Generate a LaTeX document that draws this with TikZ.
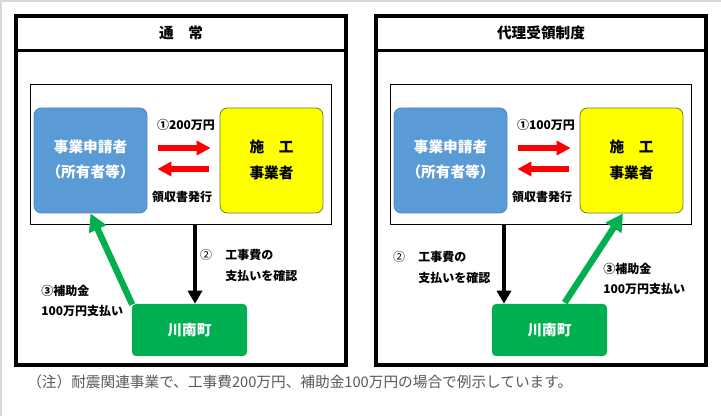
\documentclass[tikz,border=0pt]{standalone}
\usepackage{fontspec}
\setmainfont{Noto Sans CJK JP}
\usetikzlibrary{arrows.meta,calc}
\definecolor{boxblue}{HTML}{5B9BD5}
\definecolor{boxblueline}{HTML}{4A86C5}
\definecolor{boxyellow}{HTML}{FFFF00}
\definecolor{yellowline}{HTML}{6B7F2A}
\definecolor{boxgreen}{HTML}{00B050}
\definecolor{notegray}{HTML}{595959}
\definecolor{framegray}{HTML}{D9D9D9}
\begin{document}
\begin{tikzpicture}[x=0.75pt,y=-0.75pt,
  outerframe/.style={draw=black,line width=2.4pt},
  innerframe/.style={draw=black,line width=0.75pt},
  titletext/.style={font=\fontsize{11}{13}\selectfont\bfseries},
  applicant/.style={draw=boxblueline,line width=0.6pt,fill=boxblue,rounded corners=5.5pt,minimum width=84.75pt,minimum height=78.75pt,inner sep=0pt},
  builder/.style={draw=yellowline,line width=0.6pt,fill=boxyellow,rounded corners=5.5pt,minimum width=77.25pt,minimum height=78.75pt,inner sep=0pt},
  town/.style={fill=boxgreen,rounded corners=3pt,minimum width=86.25pt,minimum height=39pt,inner sep=0pt,text=white,font=\fontsize{11}{13}\selectfont\bfseries},
  boxtext/.style={font=\fontsize{11}{13}\selectfont\bfseries,inner sep=0pt},
  lbl/.style={font=\fontsize{9}{11}\selectfont\bfseries,inner sep=0pt},
  redarrow/.style={draw=red,line width=4pt,-{Triangle[width=10.5pt,length=10.5pt]}},
  blackarrow/.style={draw=black,line width=3pt,-{Triangle[width=10.5pt,length=9.75pt]}},
  greenarrow/.style={draw=boxgreen,line width=4.8pt,-{Triangle[width=13.5pt,length=13pt]}},
  note/.style={font=\fontsize{11}{13}\selectfont,text=notegray,inner sep=0pt,anchor=west}
]
\useasboundingbox (0,0) rectangle (721,416);
\fill[white] (0,0) rectangle (721,416);
\draw[framegray,line width=1.5pt] (1,416) -- (1,1) -- (721,1);

% ================= left panel =================
\draw[outerframe] (16,16) rectangle (346,365);
\draw[outerframe] (16,50.5) -- (346,50.5);
\node[titletext] (t1) at (181,33) {通　常};
\node[innerframe,minimum width=225.75pt,minimum height=105pt,inner sep=0pt] (in1) at (180.5,155) {};

\node[applicant] (ap1) at (90.5,160.5) {};
\node[boxtext,text=white] (ap1a) at (90.5,147) {事業申請者};
\node[boxtext,text=white] (ap1b) at (90.5,172) {（所有者等）};
\node[builder] (bu1) at (271.5,160.5) {};
\node[boxtext] (bu1a) at (271.5,147) {施　工};
\node[boxtext] (bu1b) at (271.5,173) {事業者};

\node[lbl] (pay1) at (186,125) {①200万円};
\node[lbl] (rec1) at (182,197) {領収書発行};
\coordinate (ra1) at (0,148);
\coordinate (rb1) at (0,169);
\draw[redarrow,shorten <=8.25pt,shorten >=6.75pt] (ap1.east |- ra1) -- (bu1.west |- ra1);
\draw[redarrow,shorten <=8.25pt,shorten >=7.5pt] (bu1.west |- rb1) -- (ap1.east |- rb1);

\node[town] (tw1) at (189.5,330) {川南町};
\coordinate (bx1) at (195,0);
\draw[blackarrow] (in1.south -| bx1) -- (tw1.north -| bx1);
\node[lbl,font=\fontsize{9}{11}\selectfont] (c1) at (206,255) {②};
\node[lbl,anchor=west] (c1a) at (225,255) {工事費の};
\node[lbl,anchor=west] (c1b) at (225,276) {支払いを確認};

\draw[greenarrow,shorten <=1pt] ([xshift=0.75pt,yshift=-1.5pt]tw1.north west) -- (ap1.south);
\node[lbl,anchor=west] (s1a) at (41,291) {③補助金};
\node[lbl,anchor=west] (s1b) at (41,311) {100万円支払い};

% ================= right panel =================
\draw[outerframe] (376,16) rectangle (706,365);
\draw[outerframe] (376,50.5) -- (706,50.5);
\node[titletext] (t2) at (541,33) {代理受領制度};
\node[innerframe,minimum width=225.75pt,minimum height=105pt,inner sep=0pt] (in2) at (540.5,155) {};

\node[applicant] (ap2) at (450.5,160.5) {};
\node[boxtext,text=white] (ap2a) at (450.5,147) {事業申請者};
\node[boxtext,text=white] (ap2b) at (450.5,172) {（所有者等）};
\node[builder] (bu2) at (631.5,160.5) {};
\node[boxtext] (bu2a) at (631.5,147) {施　工};
\node[boxtext] (bu2b) at (631.5,173) {事業者};

\node[lbl] (pay2) at (546,125) {①100万円};
\node[lbl] (rec2) at (542,197) {領収書発行};
\draw[redarrow,shorten <=8.25pt,shorten >=6.75pt] (ap2.east |- ra1) -- (bu2.west |- ra1);
\draw[redarrow,shorten <=8.25pt,shorten >=7.5pt] (bu2.west |- rb1) -- (ap2.east |- rb1);

\node[town] (tw2) at (549.5,330) {川南町};
\coordinate (bx2) at (504,0);
\draw[blackarrow] (in2.south -| bx2) -- (tw2.north -| bx2);
\node[lbl,font=\fontsize{9}{11}\selectfont] (c2) at (399,257) {②};
\node[lbl,anchor=west] (c2a) at (418,257) {工事費の};
\node[lbl,anchor=west] (c2b) at (418,278) {支払いを確認};

\draw[greenarrow,shorten <=1pt] ([xshift=10.9pt]tw2.north) -- ([xshift=-6.4pt]bu2.south);
\node[lbl,anchor=west] (s2a) at (603,269) {③補助金};
\node[lbl,anchor=west] (s2b) at (603,289) {100万円支払い};

% ================= note =================
\node[note] (nt) at (27,382) {（注）耐震関連事業で、工事費200万円、補助金100万円の場合で例示しています。};
\end{tikzpicture}
\end{document}
